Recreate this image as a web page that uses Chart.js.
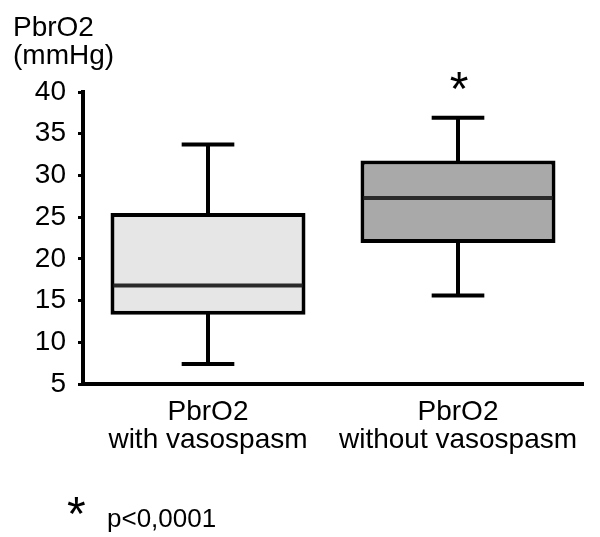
<!DOCTYPE html>
<html>
<head>
<meta charset="utf-8">
<script src="https://cdn.jsdelivr.net/npm/chart.js@4"></script>
<style>
  body { margin: 0; background: #fff; }
  canvas { display: block; }
</style>
</head>
<body>
<canvas id="myChart" width="600" height="537"></canvas>
<script>
// box plot values (mmHg)
const categories = [['PbrO2', 'with vasospasm'], ['PbrO2', 'without vasospasm']];
const whiskerLow = [7.4, 15.6];
const q1 = [13.3, 21.9];
const median = [16.8, 27.3];
const q3 = [25.5, 31.8];
const whiskerHigh = [33.7, 36.9];
const significant = [false, true];
const boxColors = ['#e6e6e6', '#a9a9a9'];
const yMin = 5, yMax = 40, yStep = 5;

const FONT = '"Liberation Sans", Arial, sans-serif';

// whiskers, medians, stars and the extra texts
const boxPlot = {
  id: 'boxPlot',
  afterDatasetsDraw(chart) {
    const ctx = chart.ctx;
    const y = chart.scales.y;
    const meta = chart.getDatasetMeta(0);
    ctx.save();
    ctx.lineWidth = 4;
    ctx.lineCap = 'butt';
    meta.data.forEach((bar, i) => {
      const x = bar.x;
      const half = bar.width / 2;
      const cap = bar.width * 0.135;
      const yq1 = y.getPixelForValue(q1[i]);
      const yq3 = y.getPixelForValue(q3[i]);
      const ylo = y.getPixelForValue(whiskerLow[i]);
      const yhi = y.getPixelForValue(whiskerHigh[i]);
      const ymed = y.getPixelForValue(median[i]);
      ctx.strokeStyle = '#000';
      ctx.beginPath();
      ctx.moveTo(x, yq3 + 2); ctx.lineTo(x, yhi);
      ctx.moveTo(x - cap, yhi); ctx.lineTo(x + cap, yhi);
      ctx.moveTo(x, yq1 - 2); ctx.lineTo(x, ylo);
      ctx.moveTo(x - cap, ylo); ctx.lineTo(x + cap, ylo);
      ctx.stroke();
      ctx.beginPath();
      ctx.strokeStyle = '#2a2a2a';
      ctx.moveTo(x - half + 3, ymed); ctx.lineTo(x + half - 3, ymed);
      ctx.stroke();
      if (significant[i]) {
        ctx.fillStyle = '#000';
        ctx.font = '48px ' + FONT;
        ctx.textAlign = 'center';
        ctx.textBaseline = 'alphabetic';
        ctx.fillText('*', x + 1, yhi - 13);
      }
    });
    ctx.restore();
  },
  afterDraw(chart) {
    const ctx = chart.ctx;
    ctx.save();
    ctx.fillStyle = '#000';
    ctx.textAlign = 'left';
    ctx.textBaseline = 'alphabetic';
    ctx.font = '28px ' + FONT;
    ctx.fillText('PbrO2', 13, 36);
    ctx.fillText('(mmHg)', 13, 64);
    ctx.font = '48px ' + FONT;
    ctx.fillText('*', 67, 530);
    ctx.font = '26px ' + FONT;
    ctx.fillText('p<0,0001', 107, 527);
    ctx.restore();
  }
};

new Chart(document.getElementById('myChart'), {
  type: 'bar',
  data: {
    labels: categories,
    datasets: [{
      data: q1.map((v, i) => [v, q3[i]]),
      backgroundColor: boxColors,
      borderColor: '#000',
      borderWidth: 4,
      borderSkipped: false,
      barPercentage: 0.78,
      categoryPercentage: 1
    }]
  },
  options: {
    responsive: false,
    animation: false,
    layout: { padding: { top: 92, right: 17, left: 0, bottom: 0 } },
    plugins: { legend: { display: false }, tooltip: { enabled: false } },
    scales: {
      x: {
        grid: { display: false },
        border: { display: true, color: '#000', width: 4 },
        ticks: {
          color: '#000',
          padding: 6,
          maxRotation: 0,
          font: { family: FONT, size: 28, lineHeight: 1.0 }
        },
        afterFit(s) { s.height = 537 - 384; }
      },
      y: {
        min: yMin,
        max: yMax,
        grid: { drawOnChartArea: false, drawTicks: true, tickLength: 5, color: '#000', lineWidth: 3 },
        border: { display: true, color: '#000', width: 4 },
        ticks: {
          stepSize: yStep,
          color: '#000',
          padding: 12,
          font: { family: FONT, size: 28 }
        },
        afterFit(s) { s.width = 83; }
      }
    }
  },
  plugins: [boxPlot]
});
</script>
</body>
</html>
